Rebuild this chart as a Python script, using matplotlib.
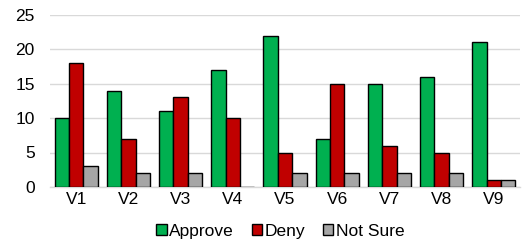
import matplotlib
matplotlib.use("Agg")
import matplotlib.pyplot as plt
import numpy as np

categories = ["V1", "V2", "V3", "V4", "V5", "V6", "V7", "V8", "V9"]
approve = [10, 14, 11, 17, 22, 7, 15, 16, 21]
deny = [18, 7, 13, 10, 5, 15, 6, 5, 1]
not_sure = [3, 2, 2, 0, 2, 2, 2, 2, 1]
series_names = ["Approve", "Deny", "Not Sure"]
colors = ["#00B050", "#C00000", "#A6A6A6"]

plt.rcParams['font.family'] = ['Liberation Sans', 'DejaVu Sans']

fig = plt.figure(figsize=(5.22, 2.44), dpi=100)
ax = fig.add_axes([0.096, 0.234, 0.9, 0.705])

x = np.arange(len(categories))
w = 0.275
for i, (vals, name, c) in enumerate(zip([approve, deny, not_sure], series_names, colors)):
    ax.bar(x + (i - 1) * w, vals, w, color=c, edgecolor="black", linewidth=1.0,
           label=name, zorder=3)

ax.set_xlim(-0.5, len(categories) - 0.5)
ax.set_ylim(0, 25)
ax.set_yticks([0, 5, 10, 15, 20, 25])
ax.set_xticks(x)
ax.set_xticklabels(categories)
ax.yaxis.grid(True, color="#D9D9D9", linewidth=1.0, zorder=0)
ax.set_axisbelow(True)
for s in ["top", "right", "left"]:
    ax.spines[s].set_visible(False)
ax.spines["bottom"].set_color("#D9D9D9")
ax.spines["bottom"].set_linewidth(1.0)
ax.tick_params(axis="both", length=0, labelsize=12.5, colors="black")
ax.tick_params(axis="y", pad=11)
ax.tick_params(axis="x", pad=4)

ax.legend(loc="center", bbox_to_anchor=(0.49, -0.258), ncol=3, frameon=False,
          fontsize=12.5, handlelength=0.6, handleheight=0.6, handletextpad=0.15,
          columnspacing=1.0, borderaxespad=0)

fig.savefig("out.png", dpi=100)
